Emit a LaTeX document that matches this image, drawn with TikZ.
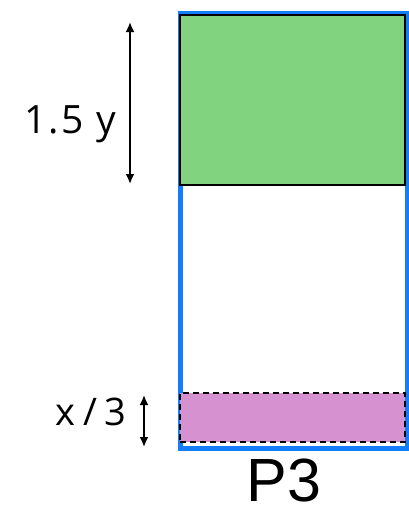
\documentclass[tikz,border=0pt]{standalone}
\usepackage{fontspec}
\setmainfont{Liberation Sans}
\newfontfamily\lblfont{Open Sans}
\usepackage{tikz}
\usetikzlibrary{positioning,arrows.meta}

\definecolor{colblue}{RGB}{20,125,250}
\definecolor{colgreen}{RGB}{129,211,128}
\definecolor{colpurple}{RGB}{213,145,208}

\begin{document}
\begin{tikzpicture}[
  x=1pt, y=-1pt,
  column/.style={draw=colblue, line width=4.5pt, inner sep=0pt,
                 minimum width=227pt, minimum height=435pt},
  block/.style={draw=black, line width=2pt, inner sep=0pt,
                minimum width=225pt},
  topblk/.style={block, fill=colgreen, minimum height=170pt},
  botblk/.style={block, fill=colpurple, dash pattern=on 6pt off 4pt,
                 minimum height=49pt},
  dimarr/.style={{Latex[length=10pt,width=9pt]}-{Latex[length=10pt,width=9pt]},
                 line width=1.8pt},
  dimlbl/.style={font=\lblfont\fontsize{38}{44}\selectfont},
]
  \useasboundingbox (0,0) rectangle (409,512);

  % Column for P3
  \node[column, anchor=north west] (col) at (178,11) {};
  \node[inner sep=0pt, font=\fontsize{61}{64}\selectfont] (name) at (284,480) {P3};

  % Blocks inside the column
  \node[topblk, anchor=north west] (green) at (179,14) {};
  \node[botblk, anchor=south west] (purple) at (179,443) {};

  % Dimension arrows
  \coordinate (g1) at (130,22);
  \coordinate (g2) at (130,184);
  \draw[dimarr] (g1) -- (g2);
  \coordinate (p1) at (144,395);
  \coordinate (p2) at (144,447);
  \draw[dimarr] (p1) -- (p2);

  % Dimension labels
  \node[dimlbl, font=\lblfont\fontsize{39}{44}\selectfont\addfontfeature{LetterSpace=6}] (ylbl) at (70,124) {1.5 y};
  \node[dimlbl, font=\lblfont\fontsize{38}{44}\selectfont\addfontfeature{LetterSpace=20}] (xlbl) at (91,412) {x/3};
\end{tikzpicture}
\end{document}
